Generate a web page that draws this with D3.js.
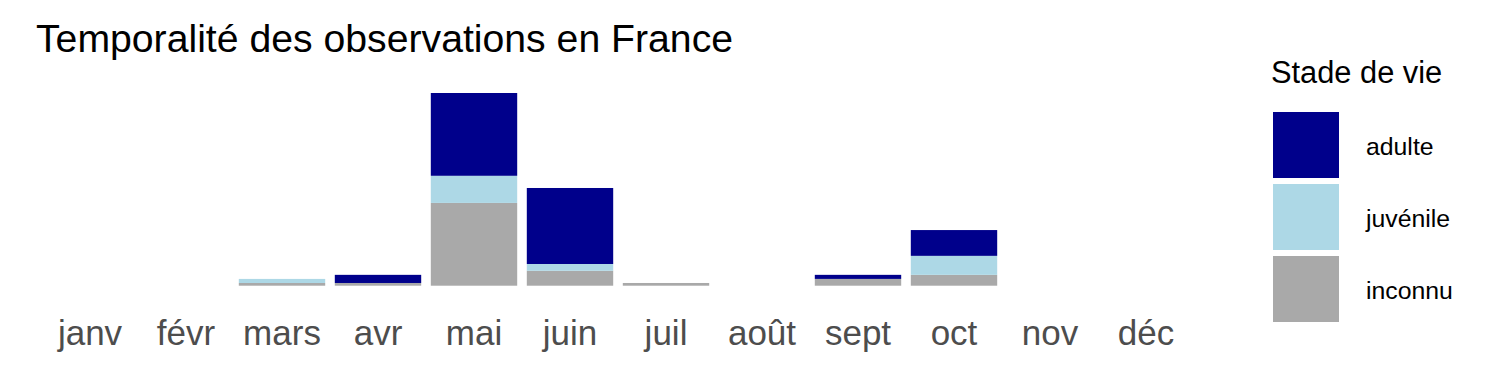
<!DOCTYPE html>
<html>
<head>
<meta charset="utf-8">
<script src="https://cdn.jsdelivr.net/npm/d3@7"></script>
<style>
  body { margin: 0; background: #fff; }
  text { font-family: "Liberation Sans", Arial, sans-serif; }
</style>
</head>
<body>
<div id="chart"></div>
<script>
// Monthly observation counts per life stage
const months = ['janv', 'févr', 'mars', 'avr', 'mai', 'juin', 'juil', 'août', 'sept', 'oct', 'nov', 'déc'];
const stages = ['adulte', 'juvénile', 'inconnu'];
const adulte =   [0, 0, 0, 6, 61, 56, 0, 0, 3, 19, 0, 0];
const juvenile = [0, 0, 3, 0, 20, 5, 0, 0, 0, 14, 0, 0];
const inconnu =  [0, 0, 2, 2, 61, 11, 2, 0, 5, 8, 0, 0];
const colors = ['#00008B', '#ADD8E6', '#A9A9A9'];

const width = 1500;
const height = 375;

const svg = d3.select('#chart')
    .append('svg')
    .attr('width', width)
    .attr('height', height);

// Build rows for the stack
const rows = months.map((m, i) => ({
    month: m,
    'adulte': adulte[i],
    'juvénile': juvenile[i],
    'inconnu': inconnu[i]
}));

// Stack order: inconnu at the bottom, adulte on top
const stack = d3.stack().keys(['inconnu', 'juvénile', 'adulte']);
const series = stack(rows);

const xScale = d3.scaleBand()
    .domain(months)
    .range([42, 1194])
    .paddingInner(0.1)
    .paddingOuter(0.05);

const yMax = d3.max(rows, d => d['adulte'] + d['juvénile'] + d['inconnu']);
const yScale = d3.scaleLinear()
    .domain([0, yMax])
    .range([285.7, 93]);

const color = d3.scaleOrdinal().domain(stages).range(colors);

// Bars
svg.append('g')
    .selectAll('g')
    .data(series)
    .join('g')
    .attr('fill', d => color(d.key))
    .selectAll('rect')
    .data(d => d)
    .join('rect')
    .attr('x', d => xScale(d.data.month))
    .attr('y', d => yScale(d[1]))
    .attr('width', xScale.bandwidth())
    .attr('height', d => yScale(d[0]) - yScale(d[1]));

// X axis (labels only)
const xAxis = svg.append('g')
    .attr('transform', 'translate(0,310)')
    .call(d3.axisBottom(xScale).tickSize(0).tickPadding(0));
xAxis.select('.domain').remove();
xAxis.selectAll('text')
    .attr('y', 35)
    .attr('dy', 0)
    .style('font-family', '"Liberation Sans", Arial, sans-serif')
    .style('font-size', '35px')
    .attr('fill', '#4D4D4D');

// Title
svg.append('text')
    .attr('x', 36)
    .attr('y', 52)
    .style('font-size', '39.2px')
    .attr('fill', '#000')
    .text('Temporalité des observations en France');

// Legend
const legend = svg.append('g').attr('transform', 'translate(1271,0)');
legend.append('text')
    .attr('x', 0)
    .attr('y', 83)
    .style('font-size', '30.8px')
    .attr('fill', '#000')
    .text('Stade de vie');

const items = legend.selectAll('g.item')
    .data(stages)
    .join('g')
    .attr('class', 'item')
    .attr('transform', (d, i) => `translate(2,${112 + i * 72})`);

items.append('rect')
    .attr('width', 66)
    .attr('height', 66)
    .attr('fill', d => color(d));

items.append('text')
    .attr('x', 93)
    .attr('y', 43)
    .style('font-size', '24.8px')
    .attr('fill', '#000')
    .text(d => d);
</script>
</body>
</html>
